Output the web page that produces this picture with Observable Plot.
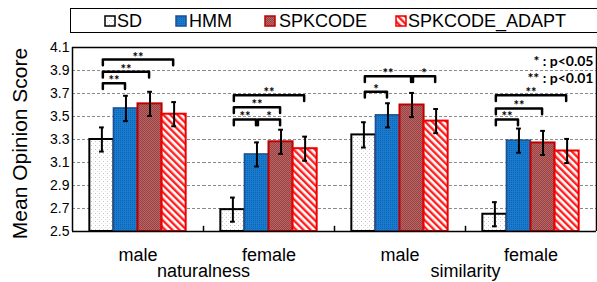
<!DOCTYPE html>
<html><head><meta charset="utf-8">
<script src="https://cdn.jsdelivr.net/npm/d3@7"></script>
<script src="https://cdn.jsdelivr.net/npm/@observablehq/plot@0.6"></script>
<style>
html,body{margin:0;padding:0;background:#fff;}
body{width:597px;height:282px;overflow:hidden;position:relative;font-family:"Liberation Sans",Arial,sans-serif;}
#defs{position:absolute;left:0;top:0;}
#legendWrap{height:40px;position:relative;}
#legendBox{position:absolute;left:70px;top:8px;width:560px;height:25px;border:1.5px solid #000;box-sizing:border-box;}
.sw{position:absolute;top:15px;}
.lt{position:absolute;top:11.5px;font-size:18px;line-height:18px;white-space:nowrap;color:#000;}
#chart svg g[aria-label="fx-axis tick label"] text, #chart svg g[aria-label="fx-axis tick label"]{font-size:18px;}
</style></head><body>
<svg id="defs" width="0" height="0">
<defs>
<pattern id="pSD" width="4" height="4" patternUnits="userSpaceOnUse">
  <rect width="4" height="4" fill="#fff"/><rect x="1" y="1" width="1" height="1" fill="#c4c4c4"/><rect x="3" y="3" width="1" height="1" fill="#e0e0e0"/>
</pattern>
<pattern id="pHMM" width="2" height="2" patternUnits="userSpaceOnUse">
  <rect width="2" height="2" fill="#1a7acd"/><rect width="1" height="1" fill="#0c63b2"/>
</pattern>
<pattern id="pSPK" width="2" height="2" patternUnits="userSpaceOnUse">
  <rect width="2" height="2" fill="#b96565"/><rect width="1" height="1" fill="#974343"/><rect x="1" y="1" width="1" height="1" fill="#974343"/>
</pattern>
<pattern id="pADAPT" width="5" height="5" patternUnits="userSpaceOnUse" patternTransform="rotate(-45)">
  <rect width="5" height="5" fill="#fff"/><rect width="2.4" height="5" fill="#ff1f1f"/>
</pattern>
</defs></svg>
<div id="legendWrap"><div id="legendBox"></div></div>
<div id="chart"></div>
<script>
// ---- data ----
const series = ["SD", "HMM", "SPKCODE", "SPKCODE_ADAPT"];
const metrics = ["naturalness", "similarity"];
const genders = ["male", "female"];
// group order: naturalness-male, naturalness-female, similarity-male, similarity-female
const sdMean = [3.30, 2.69, 3.34, 2.65];
const hmmMean = [3.57, 3.17, 3.51, 3.29];
const spkMean = [3.61, 3.28, 3.60, 3.27];
const adaptMean = [3.52, 3.22, 3.46, 3.20];
const sdErr = [0.105, 0.105, 0.11, 0.105];
const hmmErr = [0.11, 0.105, 0.105, 0.105];
const spkErr = [0.105, 0.105, 0.105, 0.105];
const adaptErr = [0.105, 0.105, 0.105, 0.105];
const yTicks = [2.5, 2.7, 2.9, 3.1, 3.3, 3.5, 3.7, 3.9, 4.1];
const bracketGroup = [0, 0, 0, 1, 1, 1, 1, 2, 2, 2, 3, 3, 3];
const bracketFrom  = [0, 0, 0, 0, 1, 0, 0, 0, 0, 2, 0, 0, 0];
const bracketTo    = [1, 2, 3, 1, 2, 2, 3, 1, 2, 3, 1, 2, 3];
const bracketLevel = [3.79, 3.89, 3.995, 3.475, 3.475, 3.58, 3.685, 3.715, 3.85, 3.85, 3.475, 3.57, 3.685];
const bracketLabel = ["**", "**", "**", "**", "*", "**", "**", "*", "**", "*", "**", "**", "**"];
const notes = ["* : p<0.05", "** : p<0.01"];
const yLabel = "Mean Opinion Score";

// ---- styles ----
const fills = ["url(#pSD)", "url(#pHMM)", "url(#pSPK)", "url(#pADAPT)"];
const strokes = ["#000000", "#1d4f91", "#c00000", "#ee0000"];
const strokeWidths = [2, 1.5, 2, 2];
const legendSwatchLeft = [105, 176, 265, 396];
const legendTextLeft = [117, 189, 279, 408];

// ---- derived tables ----
const groups = metrics.flatMap(m => genders.map(g => `${m}|${g}`));
const means = [sdMean, hmmMean, spkMean, adaptMean];
const errs = [sdErr, hmmErr, spkErr, adaptErr];
const rows = series.flatMap((s, si) => groups.map((g, gi) => ({
  group: g, series: s, si, mean: means[si][gi], err: errs[si][gi]
})));
const yDomain = [yTicks[0], yTicks[yTicks.length - 1]];
const xDomain = [-1.22, 4.22];
const tickLen = 0.05, endInset = 0.04;
const bracketPts = bracketGroup.flatMap((g, i) => {
  const a = bracketFrom[i] + endInset, b = bracketTo[i] - endInset, l = bracketLevel[i];
  return [[a, l - tickLen], [a, l], [b, l], [b, l - tickLen]].map(([x, y]) => ({id: i, group: groups[g], x, y}));
});
const bracketRows = bracketGroup.map((g, i) => ({
  group: groups[g], x: (bracketFrom[i] + bracketTo[i]) / 2, level: bracketLevel[i], label: bracketLabel[i]
}));

// ---- legend ----
const legend = d3.select("#legendWrap");
series.forEach((s, i) => {
  const sw = legend.append("svg").attr("class", "sw").attr("width", 12).attr("height", 12)
    .style("left", (legendSwatchLeft[i] - 1) + "px");
  sw.append("rect").attr("x", 1).attr("y", 1).attr("width", 10).attr("height", 10)
    .attr("fill", fills[i]).attr("stroke", strokes[i]).attr("stroke-width", 1.5);
  legend.append("span").attr("class", "lt").style("left", legendTextLeft[i] + "px").text(s);
});

// ---- chart ----
const bold = {fontFamily: "Lato, 'Open Sans', sans-serif", fontWeight: "bold"};
const chart = Plot.plot({
  width: 597, height: 242,
  marginLeft: 70, marginRight: 0, marginTop: 7, marginBottom: 51,
  style: {fontFamily: '"Liberation Sans", Arial, sans-serif', fontSize: "14px", color: "black", background: "white", overflow: "visible"},
  fx: {domain: groups, padding: 0, axis: "bottom", label: null, tickSize: 0, tickPadding: 17, tickFormat: k => k.split("|")[1]},
  x: {domain: xDomain, axis: null},
  y: {domain: yDomain, ticks: yTicks, tickFormat: d => d.toFixed(1), tickSize: 0, tickPadding: 3, label: null},
  marks: [
    Plot.ruleY(yTicks.slice(1, -1), {stroke: "#8a8a8a", strokeWidth: 1, strokeDasharray: "3,2"}),
    ...series.map((s, i) => Plot.rectY(rows.filter(d => d.si === i), {
      fx: "group", x1: d => d.si - 0.5, x2: d => d.si + 0.5, y1: d => yDomain[0], y2: "mean",
      fill: fills[i], stroke: strokes[i], strokeWidth: strokeWidths[i]
    })),
    Plot.ruleX(rows, {fx: "group", x: "si", y1: d => d.mean - d.err, y2: d => d.mean + d.err, stroke: "black", strokeWidth: 2}),
    Plot.ruleY(rows, {fx: "group", x1: d => d.si - 0.1, x2: d => d.si + 0.1, y: d => d.mean + d.err, stroke: "black", strokeWidth: 2}),
    Plot.ruleY(rows, {fx: "group", x1: d => d.si - 0.1, x2: d => d.si + 0.1, y: d => d.mean - d.err, stroke: "black", strokeWidth: 2}),
    Plot.line(bracketPts, {fx: "group", x: "x", y: "y", z: "id", stroke: "black", strokeWidth: 2.5}),
    Plot.text(bracketRows, {fx: "group", x: "x", y: "level", text: "label", fontSize: 13, lineAnchor: "bottom", dy: 2, ...bold}),
    // frame
    Plot.ruleY(yDomain, {stroke: "black", strokeWidth: 1.5}),
    Plot.ruleX([groups[0]], {fx: d => d, x: d => xDomain[0], stroke: "black", strokeWidth: 1.5}),
    Plot.ruleX([groups[groups.length - 1]], {fx: d => d, x: d => xDomain[1], stroke: "black", strokeWidth: 1.5}),
    Plot.ruleX(groups.slice(1), {fx: d => d, x: d => xDomain[0], y1: d => yDomain[0], y2: d => yDomain[0] + 0.045, stroke: "black", strokeWidth: 1.5}),
    // category labels
    Plot.text(metrics, {fx: m => `${m}|${genders[0]}`, x: d => xDomain[1], frameAnchor: "bottom", lineAnchor: "middle", dy: 40, text: d => d, fontSize: 18}),
    Plot.text([yLabel], {fx: d => groups[0], frameAnchor: "left", textAnchor: "middle", lineAnchor: "middle", dx: -52, dy: 4, rotate: -90, text: d => d, fontSize: 21}),
    Plot.text([notes.join("\n")], {fx: d => groups[groups.length - 1], frameAnchor: "top-right", lineAnchor: "top", dx: -3, dy: 7, textAnchor: "end", lineHeight: 1.2, text: d => d, fontSize: 14, ...bold})
  ]
});
document.getElementById("chart").appendChild(chart);
</script>
</body></html>
